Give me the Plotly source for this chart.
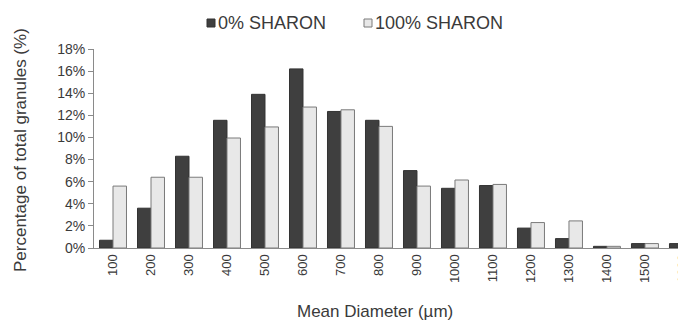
import plotly.graph_objects as go

categories = ["100", "200", "300", "400", "500", "600", "700", "800",
              "900", "1000", "1100", "1200", "1300", "1400", "1500", "1600"]
sharon_0 = [0.7, 3.6, 8.3, 11.55, 13.9, 16.2, 12.35, 11.55,
            7.0, 5.4, 5.65, 1.8, 0.85, 0.15, 0.4, 0.4]
sharon_100 = [5.6, 6.4, 6.4, 9.95, 10.95, 12.75, 12.5, 11.0,
              5.6, 6.15, 5.75, 2.3, 2.45, 0.15, 0.4, 0.3]
y_ticks = [0, 2, 4, 6, 8, 10, 12, 14, 16, 18]
series_names = ["0% SHARON", "100% SHARON"]
dark, light = "#3f3f3f", "#e8e8e8"

font = "Liberation Sans, Arial, sans-serif"
txt = "#3a3a3a"

# plot area in screen pixels (page body adds an 8px offset)
PX0, PX1, PY0, PY1 = 94, 686, 49, 248
PW, PH = PX1 - PX0, PY1 - PY0


def px(x):
    return (x - PX0) / PW


def py(y):
    return (PY1 - y) / PH


fig = go.Figure()
fig.add_trace(go.Bar(x=categories, y=sharon_0, name=series_names[0], showlegend=False,
                     marker=dict(color=dark, line=dict(color="#333333", width=1))))
fig.add_trace(go.Bar(x=categories, y=sharon_100, name=series_names[1], showlegend=False,
                     marker=dict(color=light, line=dict(color="#7a7a7a", width=1))))

# manual legend (swatch + label)
legend_items = [(207, 215, dark, "#333333", series_names[0]),
                (364, 372, light, "#7a7a7a", series_names[1])]
for x0, x1, fill, edge, label in legend_items:
    fig.add_shape(type="rect", xref="paper", yref="paper",
                  x0=px(x0), x1=px(x1), y0=py(27), y1=py(19),
                  fillcolor=fill, line=dict(color=edge, width=1))
    fig.add_annotation(text=label, xref="paper", yref="paper",
                       x=px(x1 + 1), y=py(23),
                       xanchor="left", yanchor="middle", showarrow=False,
                       font=dict(family=font, size=18, color=txt))

# axis titles
fig.add_annotation(text="Mean Diameter (µm)", xref="paper", yref="paper",
                   x=px(375), y=py(311),
                   xanchor="center", yanchor="middle", showarrow=False,
                   font=dict(family=font, size=17, color=txt))
fig.add_annotation(text="Percentage of total granules (%)", xref="paper", yref="paper",
                   x=px(20), y=py(150), textangle=-90,
                   xanchor="center", yanchor="middle", showarrow=False,
                   font=dict(family=font, size=17, color=txt))

fig.update_layout(
    width=686, height=320,
    margin=dict(l=PX0 - 8, r=8, t=PY0 - 8, b=320 - (PY1 - 8)),
    paper_bgcolor="white", plot_bgcolor="white",
    barmode="group", bargap=0.29, bargroupgap=0.0,
    font=dict(family=font, size=13, color=txt),
    showlegend=False,
    xaxis=dict(type="category", range=[-0.5, 15.08], tickangle=-90,
               showline=True, linecolor="#8a8a8a", linewidth=1,
               ticks="", showgrid=False, automargin=False,
               ticklabeloverflow="allow",
               tickfont=dict(family=font, size=13, color=txt)),
    yaxis=dict(range=[0, 18], tickvals=y_ticks,
               ticktext=[f"{v}%" for v in y_ticks],
               showline=True, linecolor="#8a8a8a", linewidth=1,
               ticks="outside", ticklen=5, tickcolor="#8a8a8a",
               showgrid=False, zeroline=False, automargin=False,
               tickfont=dict(family=font, size=14, color=txt)),
)

fig.write_html("out.html")
